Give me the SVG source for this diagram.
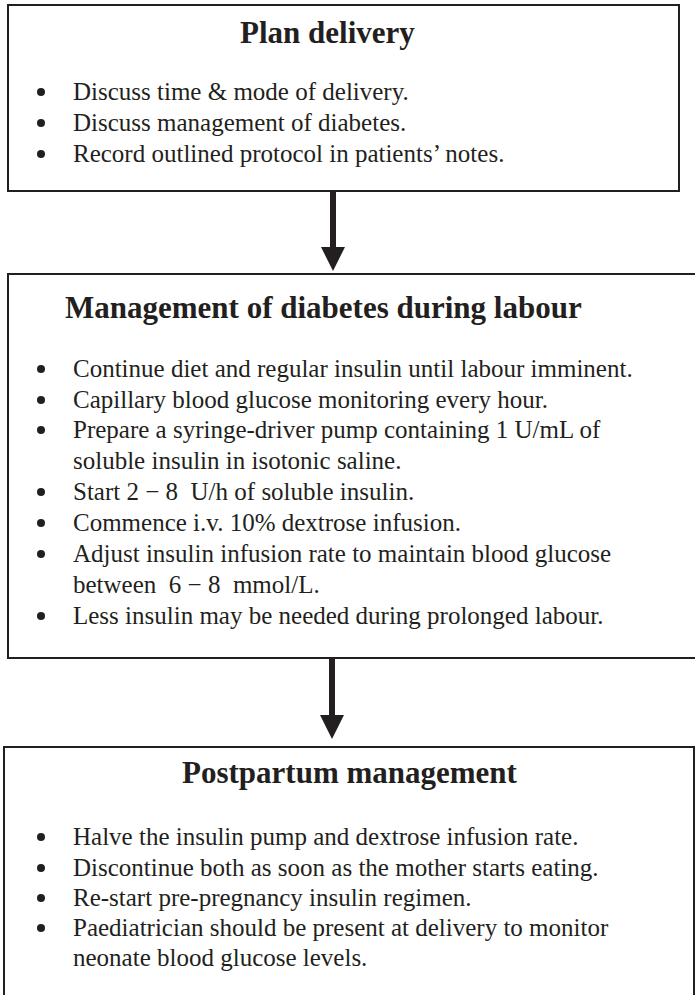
<svg xmlns="http://www.w3.org/2000/svg" width="695" height="995" viewBox="0 0 695 995">
<style>
.box{fill:#fff;stroke:#231f20;stroke-width:2}
.title{font-family:"Liberation Serif","Times New Roman",serif;font-weight:bold;font-size:31px;fill:#231f20}
.body{font-family:"Liberation Serif","Times New Roman",serif;font-size:25px;fill:#231f20;white-space:pre}
.dot{fill:#231f20}
.conn{stroke:#231f20;stroke-width:6;fill:none}
.head{fill:#231f20}
</style>
<rect width="695" height="995" fill="#fff"/>
<g id="plan-delivery">
<rect class="box" x="8" y="5" width="671" height="186"/>
<text class="title" x="240" y="43">Plan delivery</text>
<circle class="dot" cx="41" cy="92" r="4"/>
<text class="body" x="73" y="100">Discuss time &amp; mode of delivery.</text>
<circle class="dot" cx="41" cy="123" r="4"/>
<text class="body" x="73" y="131">Discuss management of diabetes.</text>
<circle class="dot" cx="41" cy="154" r="4"/>
<text class="body" x="73" y="162">Record outlined protocol in patients’ notes.</text>
</g>
<g id="labour-management">
<rect class="box" x="8" y="274" width="700" height="384"/>
<text class="title" x="65" y="318">Management of diabetes during labour</text>
<circle class="dot" cx="41" cy="369" r="4"/>
<text class="body" x="73" y="377">Continue diet and regular insulin until labour imminent.</text>
<circle class="dot" cx="41" cy="400" r="4"/>
<text class="body" x="73" y="408">Capillary blood glucose monitoring every hour.</text>
<circle class="dot" cx="41" cy="430" r="4"/>
<text class="body" x="73" y="438">Prepare a syringe-driver pump containing 1 U/mL of</text>
<text class="body" x="73" y="469">soluble insulin in isotonic saline.</text>
<circle class="dot" cx="41" cy="492" r="4"/>
<text class="body" x="73" y="500">Start 2 − 8  U/h of soluble insulin.</text>
<circle class="dot" cx="41" cy="523" r="4"/>
<text class="body" x="73" y="531">Commence i.v. 10% dextrose infusion.</text>
<circle class="dot" cx="41" cy="554" r="4"/>
<text class="body" x="73" y="562">Adjust insulin infusion rate to maintain blood glucose</text>
<text class="body" x="73" y="593">between  6 − 8  mmol/L.</text>
<circle class="dot" cx="41" cy="616" r="4"/>
<text class="body" x="73" y="624">Less insulin may be needed during prolonged labour.</text>
</g>
<g id="postpartum-management">
<rect class="box" x="4" y="747" width="690" height="260"/>
<text class="title" x="182" y="783">Postpartum management</text>
<circle class="dot" cx="41" cy="837" r="4"/>
<text class="body" x="73" y="845">Halve the insulin pump and dextrose infusion rate.</text>
<circle class="dot" cx="41" cy="868" r="4"/>
<text class="body" x="73" y="876">Discontinue both as soon as the mother starts eating.</text>
<circle class="dot" cx="41" cy="898" r="4"/>
<text class="body" x="73" y="906">Re-start pre-pregnancy insulin regimen.</text>
<circle class="dot" cx="41" cy="928" r="4"/>
<text class="body" x="73" y="936">Paediatrician should be present at delivery to monitor</text>
<text class="body" x="73" y="966">neonate blood glucose levels.</text>
</g>
<g id="connectors">
<line class="conn" x1="333" y1="191" x2="333" y2="248"/>
<polygon class="head" points="321,247 345,247 333,271"/>
<line class="conn" x1="332" y1="658" x2="332" y2="716"/>
<polygon class="head" points="320,715 344,715 332,739"/>
</g>
</svg>
